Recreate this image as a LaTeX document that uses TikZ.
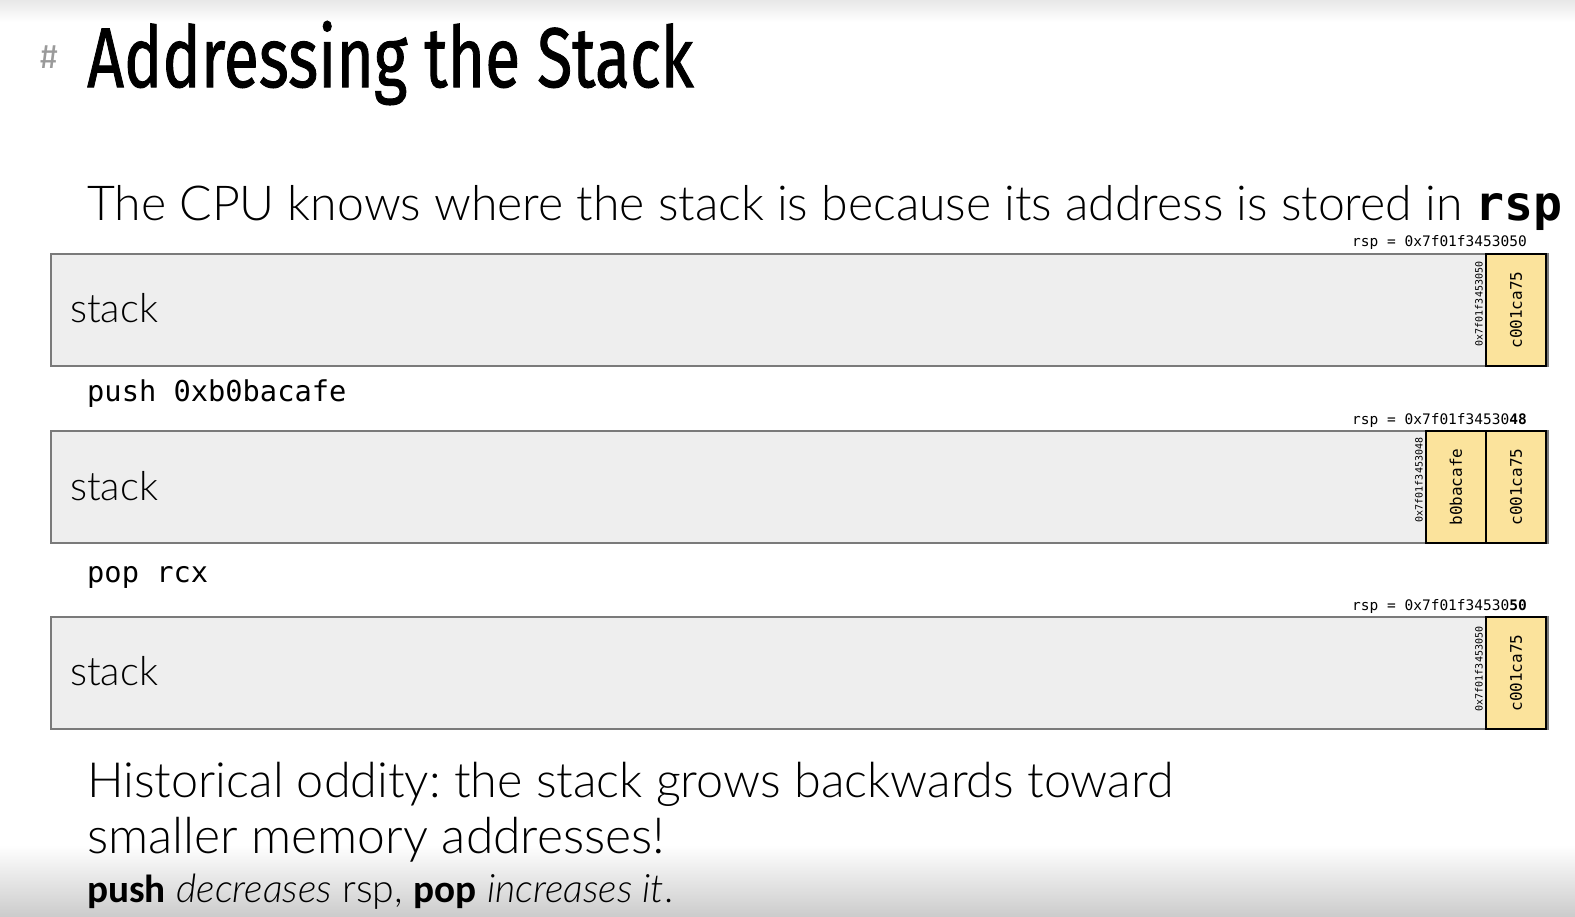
\documentclass[tikz,border=0pt]{standalone}
\usepackage{fontspec}
\usepackage{graphicx}
\newfontfamily\bodyfont[ItalicFont={Lato Light Italic},BoldFont={Lato Bold}]{Lato Light}
\newfontfamily\titlefont[FakeBold=1.2]{Fira Sans}
\newfontfamily\hashfont{Fira Sans}
\newfontfamily\monofont{DejaVu Sans Mono}
\newfontfamily\boldsans{Carlito}
\definecolor{boxfill}{HTML}{EEEEEE}
\definecolor{boxline}{HTML}{7A7A7A}
\definecolor{cellfill}{HTML}{FBE39C}
\definecolor{hashgrey}{HTML}{9A9A9A}
\frenchspacing
\tikzset{
  stackbox/.style={draw=boxline,fill=boxfill,line width=2bp,inner sep=0pt,anchor=north west,minimum width=1497bp,minimum height=112bp},
  cellbox/.style={draw=black,fill=cellfill,line width=2bp,inner sep=0pt,anchor=north east,minimum width=60bp,minimum height=112bp},
  celltext/.style={rotate=90,inner sep=0pt,font=\monofont\fontsize{16bp}{17bp}\selectfont},
  addrtext/.style={rotate=90,inner sep=0pt,font=\monofont\fontsize{10bp}{11bp}\selectfont},
  rsplabel/.style={anchor=base east,inner sep=0pt,font=\monofont\fontsize{14.5bp}{16bp}\selectfont},
  stacklabel/.style={anchor=base west,inner sep=0pt,font=\bodyfont\fontsize{40bp}{44bp}\selectfont},
  codeline/.style={anchor=base west,inner sep=0pt,font=\monofont\fontsize{28.7bp}{32bp}\selectfont},
  bodytext/.style={anchor=base west,inner sep=0pt}
}
\begin{document}
\begin{tikzpicture}[x=1bp,y=-1bp]
\useasboundingbox (0,0) rectangle (1575,916);
\fill[white] (0,0) rectangle (1575,916);
\shade[top color=black!9,bottom color=white] (0,0) rectangle (1575,22);
\shade[top color=white,bottom color=black!20] (0,845) rectangle (1575,916);

% title
\node[bodytext,text=hashgrey,font=\hashfont\fontsize{34bp}{36bp}\selectfont] (hash) at (40,68) {\#};
\node[bodytext] (title) at (87,87) {\resizebox{606bp}{66bp}{\titlefont Addressing the Stack}};

% subtitle
\node[bodytext] (sub) at (87,220) {\resizebox{1475bp}{!}{\bodyfont\fontsize{52bp}{60bp}\selectfont The CPU knows where the stack is because its address is stored in {\monofont\bfseries rsp}}};

% stack 1
\node[rsplabel] (r1) at (1527,246) {rsp = 0x7f01f3453050};
\node[stackbox] (s1) at (50,253) {};
\node[stacklabel] (l1) at (70,322) {stack};
\node[cellbox] (c1a) at (1547,253) {};
\node[celltext] (t1a) at (c1a.center) {c001ca75};
\node[addrtext] (a1) at (1479,304) {0x7f01f3453050};

% push
\node[codeline] (push) at (87,401) {push 0xb0bacafe};

% stack 2
\node[rsplabel] (r2) at (1527,424) {rsp = 0x7f01f34530\textbf{48}};
\node[stackbox] (s2) at (50,430) {};
\node[stacklabel] (l2) at (70,500) {stack};
\node[cellbox] (c2a) at (1547,430) {};
\node[celltext] (t2a) at (c2a.center) {c001ca75};
\node[cellbox] (c2b) at (1487,430) {};
\node[celltext] (t2b) at (c2b.center) {b0bacafe};
\node[addrtext] (a2) at (1419,480) {0x7f01f3453048};

% pop
\node[codeline] (pop) at (87,582) {pop rcx};

% stack 3
\node[rsplabel] (r3) at (1527,610) {rsp = 0x7f01f34530\textbf{50}};
\node[stackbox] (s3) at (50,616) {};
\node[stacklabel] (l3) at (70,685) {stack};
\node[cellbox] (c3a) at (1547,616) {};
\node[celltext] (t3a) at (c3a.center) {c001ca75};
\node[addrtext] (a3) at (1479,669) {0x7f01f3453050};

% bottom text
\node[bodytext] (h1) at (87,797) {\resizebox{1086bp}{!}{\bodyfont\fontsize{52bp}{60bp}\selectfont Historical oddity: the stack grows backwards toward}};
\node[bodytext] (h2) at (87,853) {\resizebox{578bp}{!}{\bodyfont\fontsize{52bp}{60bp}\selectfont smaller memory addresses!}};
\node[bodytext] (h3) at (87,902) {\resizebox{586bp}{!}{\bodyfont\fontsize{38bp}{44bp}\selectfont {\boldsans\bfseries push} \textit{decreases} rsp, {\boldsans\bfseries pop} \textit{increases it}.}};
\end{tikzpicture}
\end{document}
